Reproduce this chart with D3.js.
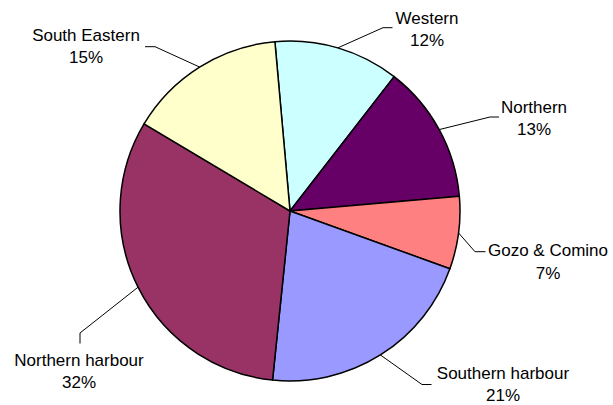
<!DOCTYPE html>
<html>
<head>
<meta charset="utf-8">
<script src="https://cdn.jsdelivr.net/npm/d3@7"></script>
<style>
  html, body { margin: 0; padding: 0; background: #fff; }
  svg { display: block; }
  text { font-family: Arial, "Liberation Sans", sans-serif; font-size: 17px; fill: #000; }
</style>
</head>
<body>
<svg id="chart" width="613" height="405"></svg>
<script>
// ---- data ----
const categories = ["Western", "Northern", "Gozo & Comino", "Southern harbour", "Northern harbour", "South Eastern"];
const values = [11.9, 13.1, 6.9, 21.1, 31.9, 15.0];
const colors = ["#CCFFFF", "#660066", "#FF8080", "#9999FF", "#993366", "#FFFFCC"];

// ---- layout (label anchors: elbow of leader, end of leader, text centre & first baseline) ----
const labelLayout = [
  { elbow: [383, 27.7], end: [392.5, 27.7], tx: 427, ty: 23.5 },
  { elbow: [490, 117],  end: [499, 117],    tx: 534, ty: 112.5 },
  { elbow: [475, 251.7], end: [485.5, 251.7], tx: 548, ty: 256 },
  { elbow: [422, 384.5], end: [431.5, 384.5], tx: 503, ty: 378.5 },
  { elbow: [80, 333],   end: [80, 343.5],   tx: 79,  ty: 365.5 },
  { elbow: [155, 46.7], end: [145, 46.7],   tx: 86,  ty: 40.7 }
];

const cx = 290, cy = 211, r = 170;
const startDeg = -5.1;
const lineGap = 22.5;

const svg = d3.select("#chart");
const g = svg.append("g").attr("transform", `translate(${cx},${cy})`);

const data = categories.map((c, i) => ({ name: c, value: values[i], color: colors[i], i }));
const total = d3.sum(values);

const pie = d3.pie()
  .value(d => d.value)
  .sort(null)
  .startAngle(startDeg * Math.PI / 180)
  .endAngle((startDeg + 360) * Math.PI / 180);

const arc = d3.arc().innerRadius(0).outerRadius(r);
const arcs = pie(data);

g.selectAll("path.slice")
  .data(arcs)
  .join("path")
  .attr("class", "slice")
  .attr("d", arc)
  .attr("fill", d => d.data.color)
  .attr("stroke", "#000")
  .attr("stroke-width", 1.5)
  .attr("stroke-linejoin", "round");

// leader lines
arcs.forEach(a => {
  const mid = (a.startAngle + a.endAngle) / 2;
  const ex = cx + r * Math.sin(mid), ey = cy - r * Math.cos(mid);
  const L = labelLayout[a.data.i];
  svg.append("polyline")
    .attr("points", [[ex, ey], L.elbow, L.end].map(p => p.join(",")).join(" "))
    .attr("fill", "none")
    .attr("stroke", "#000")
    .attr("stroke-width", 1);
});

// labels
arcs.forEach(a => {
  const L = labelLayout[a.data.i];
  const t = svg.append("text").attr("text-anchor", "middle");
  t.append("tspan").attr("x", L.tx).attr("y", L.ty).text(a.data.name);
  t.append("tspan").attr("x", L.tx).attr("y", L.ty + lineGap)
    .text(d3.format(".0f")(a.data.value / total * 100) + "%");
});
</script>
</body>
</html>
